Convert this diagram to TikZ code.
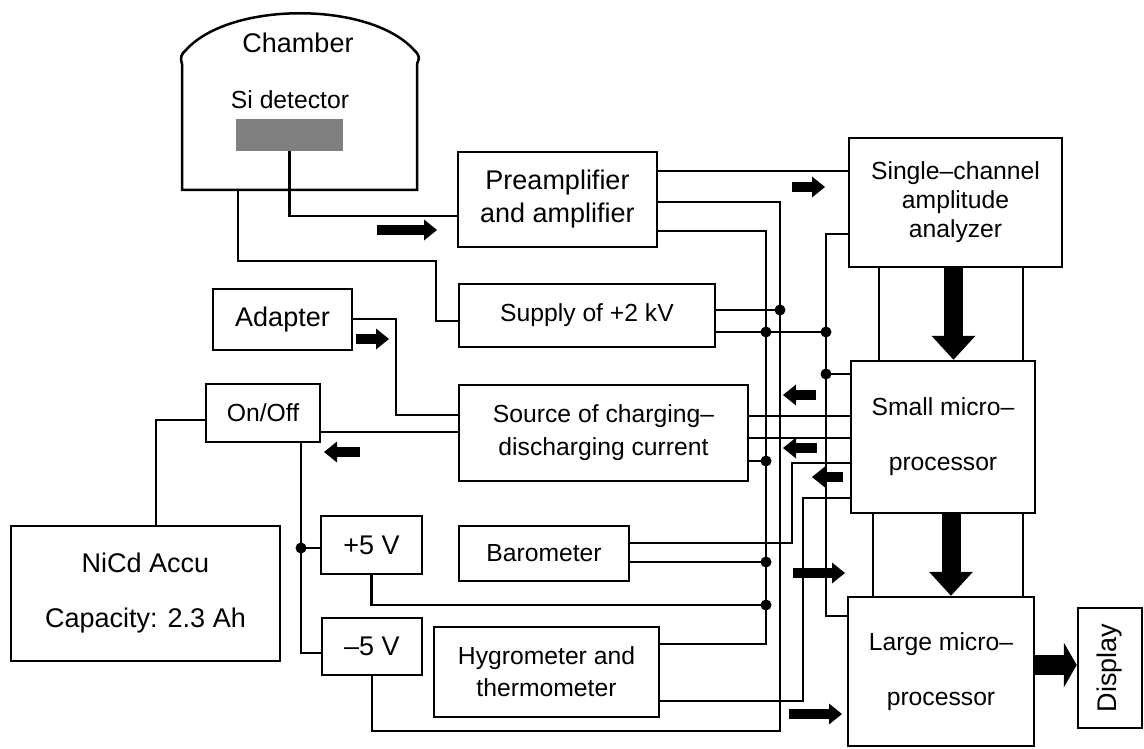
\documentclass[tikz,border=0pt]{standalone}
\usepackage{fontspec}
\setmainfont{Liberation Sans}
\usetikzlibrary{arrows.meta}

\tikzset{
  blk/.style={draw,line width=2.5pt,align=center,inner sep=2pt,font=\fontsize{24.7}{31}\selectfont},
  bigtxt/.style={font=\fontsize{27}{33}\selectfont},
  smltxt/.style={font=\fontsize{24.7}{31}\selectfont},
  tall/.style={font=\fontsize{24.7}{55}\selectfont},
  wire/.style={line width=2.5pt},
  dot/.style={circle,fill,inner sep=0pt,minimum size=11pt},
  flow/.style={line width=10pt,-{Triangle[length=13pt,width=21pt,line width=0pt]}},
  fat/.style={line width=19pt,-{Triangle[length=24pt,width=44pt,line width=0pt]}},
  fatr/.style={line width=20pt,-{Triangle[length=13pt,width=45pt,line width=0pt]}},
}

\begin{document}
\begin{tikzpicture}[x=1pt,y=-1pt]
\useasboundingbox (0,0) rectangle (1144,749);

% chamber with detector
\draw[wire] (182,190) -- (182,64) .. controls (180,58) and (181,54) .. (186,50)
  .. controls (230,1) and (370,1) .. (414,50) .. controls (419,54) and (420,58) .. (417,64)
  -- (417,190) -- cycle;
\coordinate (chb) at (238,190);
\node[bigtxt] (chlab) at (298,43) {Chamber};
\node[smltxt] (silab) at (290,100) {Si detector};
\node[fill=black!50,inner sep=0pt,minimum width=107,minimum height=32] (det) at (289.5,135) {};

% blocks
\node[blk,bigtxt,minimum width=199,minimum height=95] (pre) at (557.5,199.5) {Preamplifier\\and amplifier};
\node[blk,minimum width=256,minimum height=63] (sup) at (587,315.5) {Supply of +2 kV};
\node[blk,minimum width=213,minimum height=129,font=\fontsize{24.7}{29}\selectfont] (sca) at (955.5,202.5) {Single–channel\\amplitude\\analyzer};
\node[blk,bigtxt,minimum width=139,minimum height=61] (ada) at (282.5,319.5) {Adapter};
\node[blk,minimum width=114,minimum height=58] (onoff) at (263,413) {On/Off};
\node[blk,minimum width=289,minimum height=96,font=\fontsize{24.7}{33}\selectfont] (src) at (603.5,433) {Source of charging–\\discharging current};
\node[blk,tall,minimum width=184,minimum height=152] (smp) at (943,437) {Small micro–\\processor};
\node[blk,minimum width=269,minimum height=135,font=\fontsize{27}{55}\selectfont] (acc) at (145.5,593.5) {NiCd Accu\\Capacity: 2.3 Ah};
\node[blk,bigtxt,minimum width=101,minimum height=58] (pfive) at (371.5,545) {+5 V};
\node[blk,bigtxt,minimum width=100,minimum height=57] (mfive) at (372,646.5) {–5 V};
\node[blk,minimum width=170,minimum height=55] (baro) at (544,553.5) {Barometer};
\node[blk,font=\fontsize{24.7}{32}\selectfont,minimum width=225,minimum height=90] (hyg) at (546.5,672) {Hygrometer and\\thermometer};
\node[blk,tall,minimum width=186,minimum height=149] (lmp) at (941,671.5) {Large micro–\\processor};
\node[blk,bigtxt,rotate=90,minimum width=120,minimum height=64] (disp) at (1110,668) {Display};

% junctions
\node[dot] (j1) at (780,310) {};
\node[dot] (j2) at (766,332) {};
\node[dot] (j3) at (826,332) {};
\node[dot] (j4) at (826,374) {};
\node[dot] (j5) at (766,461) {};
\node[dot] (j6) at (766,562) {};
\node[dot] (j7) at (766,605) {};
\node[dot] (j8) at (301,548) {};

% wires
\draw[wire] (det.south) |- (pre.west |- 0,216);
\draw[wire] (chb) |- (436,261) |- (sup.west |- 0,321);
\draw[wire] (pre.east |- 0,171) -- (sca.west |- 0,171);
\draw[wire] (pre.east |- 0,202) -| (780,731) -| (mfive.south);
\draw[wire] (pre.east |- 0,231) -| (766,644) -- (hyg.east |- 0,644);
\draw[wire] (sup.east |- 0,310) -- (j1.center);
\draw[wire] (sup.east |- 0,332) -- (j3.center);
\draw[wire] (sca.west |- 0,234) -| (826,616) -- (lmp.west |- 0,616);
\draw[wire] (j4.center) -- (smp.west |- j4);
\draw[wire] (src.east |- 0,416) -- (smp.west |- 0,416);
\draw[wire] (src.east |- 0,438) -- (smp.west |- 0,438);
\draw[wire] (src.east |- 0,461) -- (j5.center);
\draw[wire] (smp.west |- 0,463) -| (792,543) -- (baro.east |- 0,543);
\draw[wire] (smp.west |- 0,498) -| (803,701) -- (hyg.east |- 0,701);
\draw[wire] (baro.east |- 0,562) -- (j6.center);
\draw[wire] (pfive.south) |- (j7.center);
\draw[wire] (ada.east |- 0,319) -| (396,415) -- (src.west |- 0,415);
\draw[wire] (onoff.east |- 0,432) -- (src.west |- 0,432);
\draw[wire] (onoff.west |- 0,420) -| (acc.north -| 156,0);
\draw[wire] (onoff.south -| 301,0) |- (mfive.west |- 0,653);
\draw[wire] (j8.center) -- (pfive.west |- j8);
\draw[wire] (sca.south -| 879,0) -- (smp.north -| 879,0);
\draw[wire] (sca.south -| 1023,0) -- (smp.north -| 1023,0);
\draw[wire] (smp.south -| 873,0) -- (lmp.north -| 873,0);
\draw[wire] (smp.south -| 1023,0) -- (lmp.north -| 1023,0);

% data flow
\draw[fat] (sca.south -| 953.5,0) -- (smp.north -| 953.5,0);
\draw[fat] (smp.south -| 951,0) -- (lmp.north -| 951,0);
\draw[fatr] (lmp.east |- 0,665) -- (disp.north |- 0,665);
\draw[flow] (377,230) -- (437,230);
\draw[flow] (792,187) -- (825,187);
\draw[flow] (356,339) -- (389,339);
\draw[flow] (360,452) -- (324,452);
\draw[flow] (816,395) -- (783,395);
\draw[flow] (817,448) -- (783,448);
\draw[flow] (843,477) -- (812,477);
\draw[flow] (793,573) -- (845,573);
\draw[flow] (789,714) -- (842,714);
\end{tikzpicture}
\end{document}
